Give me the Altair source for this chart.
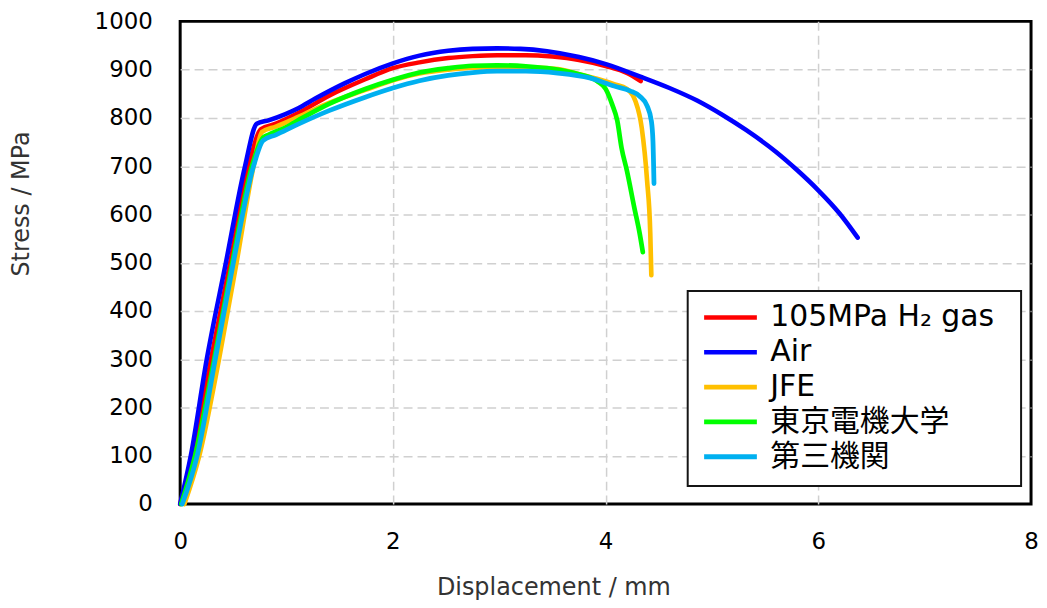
import altair as alt
import pandas as pd

# ---- data ----
series_names = ["105MPa H₂ gas", "Air", "JFE", "東京電機大学", "第三機関"]
series_colors = ["#ff0000", "#0000ff", "#ffc000", "#00ff00", "#00b0f0"]
series_widths = [4.5, 4.8, 3.5, 2.0, 3.5]

h2_x = [0, 0.12, 0.29, 0.47, 0.645, 0.76, 0.9, 1.11, 1.4, 1.74, 2.0, 2.25, 2.52, 2.75, 2.98, 3.25,
        3.5, 3.75, 4.01, 4.2, 4.33]
h2_y = [0, 100, 300, 500, 700, 777, 788, 810, 846, 880, 903, 915, 924, 928, 930, 930,
        927, 920, 907, 893, 876]

air_x = [0, 0.1, 0.25, 0.43, 0.61, 0.72, 0.83, 0.99, 1.11, 1.27, 1.55, 1.74, 2.0, 2.25, 2.52, 2.75,
         2.98, 3.2, 3.45, 3.75, 4.01, 4.32, 4.6, 4.86, 5.1, 5.32, 5.6, 5.8, 6.0, 6.2, 6.37]
air_y = [0, 100, 300, 500, 700, 788, 795, 808, 820, 840, 872, 891, 913, 929, 939, 943,
         944, 943, 938, 926, 911, 886, 862, 836, 806, 775, 730, 692, 650, 602, 552]

jfe_x = [0.04, 0.18, 0.365, 0.53, 0.69, 0.77, 0.9, 1.11, 1.4, 1.74, 2.0, 2.25, 2.52, 2.75, 2.98,
         3.25, 3.55, 3.76, 3.95, 4.08, 4.2, 4.28, 4.34, 4.39, 4.42, 4.43]
jfe_y = [0, 100, 300, 500, 700, 771, 782, 802, 831, 858, 878, 892, 900, 904, 905,
         905, 901, 890, 879, 870, 860, 835, 779, 670, 561, 474]

tdu_x = [0.01, 0.14, 0.32, 0.49, 0.675, 0.78, 0.83, 0.99, 1.15, 1.4, 1.74, 2.0, 2.25, 2.52, 2.75,
         2.98, 3.25, 3.45, 3.6, 3.76, 3.92, 4.0, 4.06, 4.11, 4.15, 4.2, 4.27, 4.32, 4.35]
tdu_y = [0, 100, 300, 500, 700, 759, 765, 780, 800, 829, 860, 879, 894, 903, 908,
         909, 907, 903, 898, 890, 876, 860, 829, 794, 738, 691, 614, 561, 522]

third_x = [0.02, 0.16, 0.33, 0.5, 0.69, 0.78, 0.9, 1.11, 1.4, 1.74, 2.0, 2.25, 2.52, 2.75, 2.98,
           3.25, 3.55, 3.85, 4.08, 4.23, 4.32, 4.39, 4.43, 4.445, 4.455]
third_y = [0, 100, 300, 500, 700, 753, 765, 787, 815, 843, 862, 877, 888, 894, 897,
           897, 893, 883, 866, 856, 845, 825, 794, 753, 664]

x_ticks = [0, 2, 4, 6, 8]
y_ticks = [0, 100, 200, 300, 400, 500, 600, 700, 800, 900, 1000]

# ---- build table ----
rows = []
for name, xs, ys in zip(series_names,
                        [h2_x, air_x, jfe_x, tdu_x, third_x],
                        [h2_y, air_y, jfe_y, tdu_y, third_y]):
    for i, (xv, yv) in enumerate(zip(xs, ys)):
        rows.append({"series": name, "disp": xv, "stress": yv, "i": i})
df = pd.DataFrame(rows)

FONT = "DejaVu Sans, Noto Sans CJK JP"

lines = alt.Chart(df).mark_line(interpolate="monotone", strokeCap="round", strokeJoin="round").encode(
    x=alt.X("disp:Q",
            scale=alt.Scale(domain=[0, 8], nice=False),
            axis=alt.Axis(values=x_ticks, title="Displacement / mm", labelPadding=27, labelFlush=False,
                          titleX=375, titleY=84, titleBaseline="middle", titleAlign="center",
                          gridOpacity={"condition": {"test": "datum.value == 0 || datum.value == 8", "value": 0},
                                       "value": 1})),
    y=alt.Y("stress:Q",
            scale=alt.Scale(domain=[0, 1000], nice=False),
            axis=alt.Axis(values=y_ticks, format="d", title="Stress / MPa", labelPadding=28,
                          labelFlush=False,
                          titleX=-159, titleY=183, titleAngle=270,
                          titleBaseline="middle", titleAlign="center",
                          gridOpacity={"condition": {"test": "datum.value == 0 || datum.value == 1000", "value": 0},
                                       "value": 1})),
    color=alt.Color("series:N",
                    scale=alt.Scale(domain=series_names, range=series_colors),
                    legend=alt.Legend(
                        title=None, orient="none", legendX=510, legendY=271,
                        padding=9,
                        symbolType="stroke", symbolSize=2809, symbolStrokeWidth=4,
                        symbolOffset=5, labelOffset=11,
                        labelFont=FONT, labelFontSize=30, labelColor="black",
                        labelLimit=400, clipHeight=35, rowPadding=0)),
    strokeWidth=alt.StrokeWidth("series:N",
                                scale=alt.Scale(domain=series_names, range=series_widths),
                                legend=None),
    order="i:Q",
)

# legend frame (plot-area pixels)
legend_box = alt.Chart(df).mark_rect(fill="white", stroke="#151515", strokeWidth=2).encode(
    x=alt.value(510), x2=alt.value(845), y=alt.value(271), y2=alt.value(467)
).transform_filter("datum.i == 0 && datum.series == 'Air'")

chart = alt.layer(legend_box, lines).properties(
    width=855, height=485,
    autosize=alt.AutoSizeParams(type="none"),
    padding={"left": 173, "top": 12, "right": 8, "bottom": 95},
    background="white",
).configure_view(
    stroke="black", strokeWidth=3
).configure_axis(
    domain=False, ticks=False, grid=True,
    gridColor="#d0d0d0", gridDash=[9, 5], gridWidth=1.5,
    labelFont=FONT, labelFontSize=23, labelColor="black",
    titleFont=FONT, titleFontSize=24, titleFontWeight="normal", titleColor="#333333",
).configure_legend(
    fillColor=None, strokeColor=None
)

chart.save("out.html", embed_options={"renderer": "svg", "actions": False})
